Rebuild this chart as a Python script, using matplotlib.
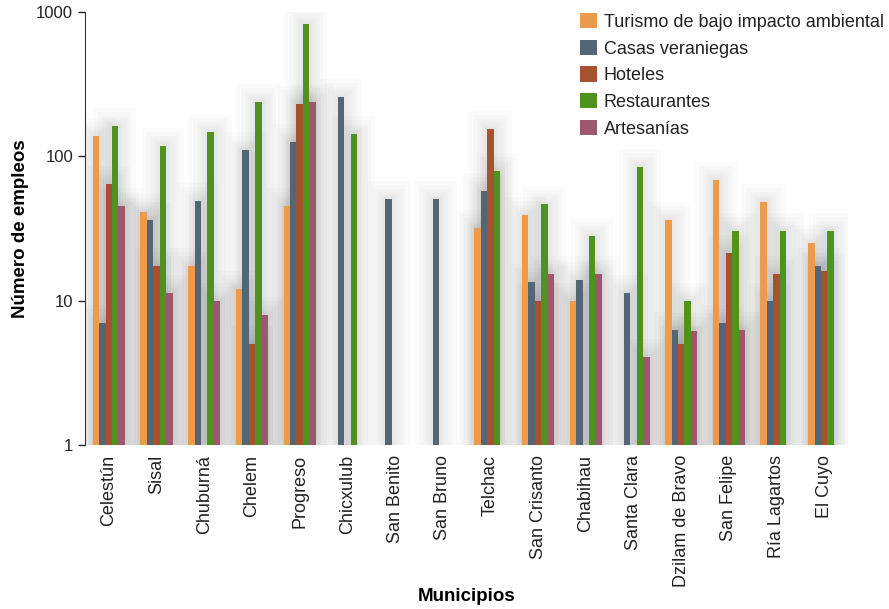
import matplotlib
matplotlib.use("Agg")
import matplotlib.pyplot as plt
import matplotlib.patheffects as pe
import numpy as np

plt.rcParams['font.family'] = ['Liberation Sans', 'DejaVu Sans']

municipios = ['Celestún', 'Sisal', 'Chuburná', 'Chelem', 'Progreso', 'Chicxulub',
              'San Benito', 'San Bruno', 'Telchac', 'San Crisanto', 'Chabihau',
              'Santa Clara', 'Dzilam de Bravo', 'San Felipe', 'Ría Lagartos', 'El Cuyo']

nan = np.nan
turismo = [138, 41, 17.5, 12, 45, nan, nan, nan, 32, 39, 10, nan, 36, 69, 48, 25]
casas = [7, 36, 49, 110, 125, 260, 51, 51, 58, 13.5, 14, 11.3, 6.3, 7, 10, 17.5]
hoteles = [64, 17.5, nan, 5, 230, nan, nan, nan, 156, 10, nan, nan, 5, 21.5, 15.4, 16]
restaurantes = [162, 119, 147, 237, 826, 144, nan, nan, 79, 47, 28, 85, 10, 30.5, 30.5, 30.5]
artesanias = [45, 11.4, 10, 8, 237, nan, nan, nan, nan, 15.4, 15.4, 4.1, 6.2, 6.3, nan, nan]

series = [
    ('Turismo de bajo impacto ambiental', turismo, '#ec9a4c'),
    ('Casas veraniegas', casas, '#536676'),
    ('Hoteles', hoteles, '#a65231'),
    ('Restaurantes', restaurantes, '#4f921e'),
    ('Artesanías', artesanias, '#9f566f'),
]

fig = plt.figure(figsize=(8.89, 6.09), dpi=100)
ax = fig.add_axes([0.0956, 0.2693, 0.8584, 0.7107])
ax.set_yscale('log')

x = np.arange(len(municipios))
width = 0.135
glow = [pe.Stroke(linewidth=lw, foreground='black', alpha=0.014) for lw in (26, 20, 15, 11, 7, 4)]

for i, (name, vals, color) in enumerate(series):
    pos = x + (i - 2) * width
    vals = np.array(vals, dtype=float)
    # soft shadow behind the bars
    sh = ax.bar(pos, vals, width, color='white', zorder=1, linewidth=0)
    for p in sh:
        p.set_path_effects(glow)
    ax.bar(pos, vals, width, color=color, label=name, zorder=2, linewidth=0)

ax.set_ylim(1, 1000)
ax.set_xlim(-0.5, len(municipios) - 0.5)
ax.set_yticks([1, 10, 100, 1000])
ax.set_yticklabels(['1', '10', '100', '1000'])
ax.yaxis.set_minor_locator(matplotlib.ticker.NullLocator())
ax.set_xticks(x)
ax.set_xticklabels(municipios, rotation=90)
ax.tick_params(axis='x', length=0, labelsize=13, pad=7, colors='#222222')
ax.tick_params(axis='y', length=5, labelsize=12, colors='#222222', width=1)

for s in ['top', 'right', 'bottom']:
    ax.spines[s].set_visible(False)
ax.spines['left'].set_color('#333333')

ax.set_ylabel('Número de empleos', fontsize=13.5, fontweight='bold', labelpad=5)
ax.set_xlabel('Municipios', fontsize=13.5, fontweight='bold', va='center')
ax.xaxis.set_label_coords(0.5, -0.349)

leg = ax.legend(loc='upper right', bbox_to_anchor=(1.056, 1.015), frameon=False,
                fontsize=13, handlelength=0.95, handleheight=0.95, handletextpad=0.35,
                labelspacing=0.48, borderaxespad=0)
for t in leg.get_texts():
    t.set_color('#222222')

plt.savefig('out.png', dpi=100)
plt.close()
